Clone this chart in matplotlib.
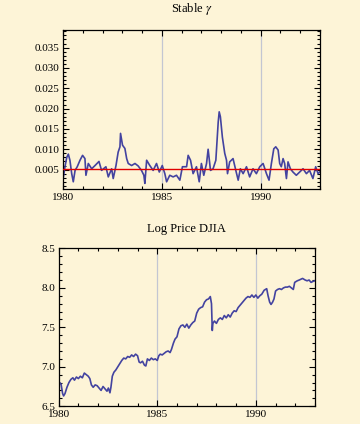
import numpy as np
import matplotlib.pyplot as plt
from matplotlib.ticker import MultipleLocator, FormatStrFormatter

# Stable gamma
gamma_year = [1980.02, 1980.10, 1980.19, 1980.27, 1980.35, 1980.44, 1980.52, 1980.61,
              1980.72, 1980.86, 1980.99, 1981.11, 1981.16, 1981.28, 1981.45, 1981.62,
              1981.82, 1981.95, 1982.17, 1982.29, 1982.46, 1982.54, 1982.68, 1982.79,
              1982.88, 1982.91, 1983.01, 1983.13, 1983.22, 1983.30, 1983.47, 1983.64,
              1983.80, 1983.97, 1984.09, 1984.14, 1984.23, 1984.39, 1984.56, 1984.73,
              1984.87, 1985.02, 1985.15, 1985.24, 1985.40, 1985.57, 1985.74, 1985.91,
              1986.04, 1986.25, 1986.33, 1986.45, 1986.58, 1986.75, 1986.89, 1987.00,
              1987.12, 1987.26, 1987.34, 1987.46, 1987.59, 1987.73, 1987.85, 1987.90,
              1987.96, 1988.06, 1988.18, 1988.27, 1988.32, 1988.43, 1988.60, 1988.74,
              1988.86, 1988.97, 1989.11, 1989.28, 1989.44, 1989.61, 1989.78, 1989.95,
              1990.12, 1990.29, 1990.42, 1990.54, 1990.66, 1990.76, 1990.88, 1990.96,
              1991.04, 1991.13, 1991.21, 1991.30, 1991.38, 1991.50, 1991.63, 1991.80,
              1991.97, 1992.14, 1992.31, 1992.47, 1992.64, 1992.78, 1992.90, 1992.98]
gamma = [0.0032, 0.0057, 0.0080, 0.0088, 0.0073, 0.0040, 0.0020, 0.0048,
         0.0057, 0.0073, 0.0085, 0.0077, 0.0036, 0.0065, 0.0052, 0.0060,
         0.0070, 0.0048, 0.0057, 0.0032, 0.0052, 0.0028, 0.0060, 0.0093,
         0.0106, 0.0139, 0.0110, 0.0102, 0.0077, 0.0065, 0.0060, 0.0065,
         0.0059, 0.0048, 0.0036, 0.0016, 0.0073, 0.0060, 0.0048, 0.0065,
         0.0044, 0.0060, 0.0040, 0.0020, 0.0036, 0.0032, 0.0036, 0.0024,
         0.0057, 0.0057, 0.0085, 0.0073, 0.0040, 0.0057, 0.0020, 0.0065,
         0.0036, 0.0065, 0.0100, 0.0048, 0.0052, 0.0073, 0.0167, 0.0192,
         0.0180, 0.0130, 0.0090, 0.0073, 0.0040, 0.0069, 0.0077, 0.0048,
         0.0024, 0.0052, 0.0040, 0.0057, 0.0032, 0.0052, 0.0040, 0.0057,
         0.0065, 0.0040, 0.0024, 0.0065, 0.0101, 0.0106, 0.0098, 0.0065,
         0.0057, 0.0077, 0.0065, 0.0028, 0.0069, 0.0052, 0.0044, 0.0036,
         0.0044, 0.0052, 0.0040, 0.0048, 0.0028, 0.0057, 0.0040, 0.0044]
gamma_ref = 0.0051

# log price of the DJIA
djia_year = [1980.00, 1980.05, 1980.12, 1980.20, 1980.25, 1980.32, 1980.42, 1980.52,
             1980.62, 1980.72, 1980.80, 1980.90, 1981.00, 1981.10, 1981.20, 1981.30,
             1981.40, 1981.50, 1981.58, 1981.66, 1981.75, 1981.85, 1981.95, 1982.05,
             1982.15, 1982.25, 1982.35, 1982.45, 1982.52, 1982.60, 1982.65, 1982.72,
             1982.80, 1982.90, 1983.00, 1983.10, 1983.20, 1983.30, 1983.40, 1983.50,
             1983.60, 1983.70, 1983.80, 1983.90, 1984.00, 1984.08, 1984.15, 1984.25,
             1984.35, 1984.42, 1984.50, 1984.60, 1984.70, 1984.80, 1984.90, 1985.00,
             1985.08, 1985.15, 1985.25, 1985.35, 1985.45, 1985.55, 1985.65, 1985.72,
             1985.82, 1985.90, 1986.00, 1986.10, 1986.20, 1986.30, 1986.40, 1986.50,
             1986.60, 1986.70, 1986.80, 1986.90, 1987.00, 1987.10, 1987.20, 1987.30,
             1987.40, 1987.50, 1987.60, 1987.69, 1987.75, 1987.79, 1987.82, 1987.90,
             1988.00, 1988.10, 1988.20, 1988.30, 1988.40, 1988.50, 1988.60, 1988.70,
             1988.80, 1988.90, 1989.00, 1989.10, 1989.20, 1989.30, 1989.40, 1989.50,
             1989.60, 1989.70, 1989.80, 1989.90, 1990.00, 1990.10, 1990.20, 1990.30,
             1990.42, 1990.55, 1990.62, 1990.70, 1990.77, 1990.85, 1990.92, 1991.00,
             1991.10, 1991.20, 1991.30, 1991.40, 1991.50, 1991.60, 1991.70, 1991.80,
             1991.90, 1991.97, 1992.10, 1992.20, 1992.37, 1992.50, 1992.60, 1992.70,
             1992.80, 1992.88, 1992.98]
djia = [6.74, 6.80, 6.78, 6.66, 6.63, 6.66, 6.74, 6.80,
        6.84, 6.86, 6.83, 6.87, 6.85, 6.88, 6.86, 6.92,
        6.90, 6.88, 6.85, 6.77, 6.74, 6.77, 6.76, 6.73,
        6.70, 6.75, 6.72, 6.69, 6.73, 6.67, 6.74, 6.88,
        6.93, 6.96, 7.00, 7.04, 7.08, 7.11, 7.10, 7.13,
        7.12, 7.15, 7.13, 7.16, 7.14, 7.06, 7.05, 7.07,
        7.02, 7.01, 7.10, 7.08, 7.11, 7.09, 7.10, 7.08,
        7.14, 7.16, 7.15, 7.17, 7.19, 7.20, 7.18, 7.22,
        7.30, 7.35, 7.38, 7.48, 7.52, 7.53, 7.50, 7.54,
        7.49, 7.53, 7.56, 7.58, 7.68, 7.73, 7.75, 7.76,
        7.82, 7.85, 7.86, 7.89, 7.80, 7.46, 7.55, 7.58,
        7.55, 7.60, 7.62, 7.60, 7.65, 7.62, 7.66, 7.63,
        7.68, 7.71, 7.70, 7.75, 7.78, 7.81, 7.84, 7.87,
        7.89, 7.88, 7.91, 7.88, 7.91, 7.87, 7.90, 7.92,
        7.97, 7.99, 7.90, 7.82, 7.79, 7.82, 7.86, 7.96,
        7.98, 7.99, 7.98, 8.00, 8.01, 8.01, 8.02, 8.00,
        7.98, 8.07, 8.09, 8.10, 8.12, 8.10, 8.09, 8.10,
        8.07, 8.08, 8.09]

bg = "#fdf4d7"
line_col = "#4343a0"
grid_col = "#c3c6d2"

plt.rcParams["font.family"] = ["Liberation Serif", "DejaVu Serif"]
plt.rcParams["mathtext.fontset"] = "stix"

fig = plt.figure(figsize=(3.6, 4.24), dpi=100, facecolor=bg)
ax1 = fig.add_axes([0.175, 0.554, 0.714, 0.375])
ax2 = fig.add_axes([0.163, 0.042, 0.712, 0.372])


def style(ax):
    ax.set_facecolor(bg)
    ax.xaxis.set_major_locator(MultipleLocator(5))
    ax.xaxis.set_minor_locator(MultipleLocator(1))
    ax.tick_params(which="both", direction="in", top=True, right=True,
                   labelsize=8, width=0.8)
    ax.tick_params(axis="x", pad=3)
    ax.tick_params(axis="y", pad=2.5)
    ax.tick_params(which="major", length=4)
    ax.tick_params(which="minor", length=2.5)
    for s in ax.spines.values():
        s.set_linewidth(0.9)
    for yr in (1985, 1990):
        ax.axvline(yr, color=grid_col, lw=0.9, zorder=0)


style(ax1)
ax1.plot(gamma_year, gamma, color=line_col, lw=1.2, zorder=2)
ax1.axhline(gamma_ref, color="#e00000", lw=1.0, zorder=3)
ax1.set_xlim(1980, 1993)
ax1.set_ylim(0.0002, 0.0393)
ax1.yaxis.set_minor_locator(MultipleLocator(0.001))
ax1.yaxis.set_major_formatter(FormatStrFormatter("%.3f"))
ax1.set_yticks([0.005, 0.010, 0.015, 0.020, 0.025, 0.030, 0.035])
ax1.set_title("Stable $\\gamma$", fontsize=9, pad=13)

style(ax2)
ax2.plot(djia_year, djia, color=line_col, lw=1.2)
ax2.set_xlim(1980, 1993)
ax2.set_ylim(6.5, 8.5)
ax2.yaxis.set_major_locator(MultipleLocator(0.5))
ax2.yaxis.set_minor_locator(MultipleLocator(0.1))
ax2.yaxis.set_major_formatter(FormatStrFormatter("%.1f"))
ax2.set_title("Log Price DJIA", fontsize=9, pad=12)

fig.savefig("out.png", dpi=100, facecolor=bg)
